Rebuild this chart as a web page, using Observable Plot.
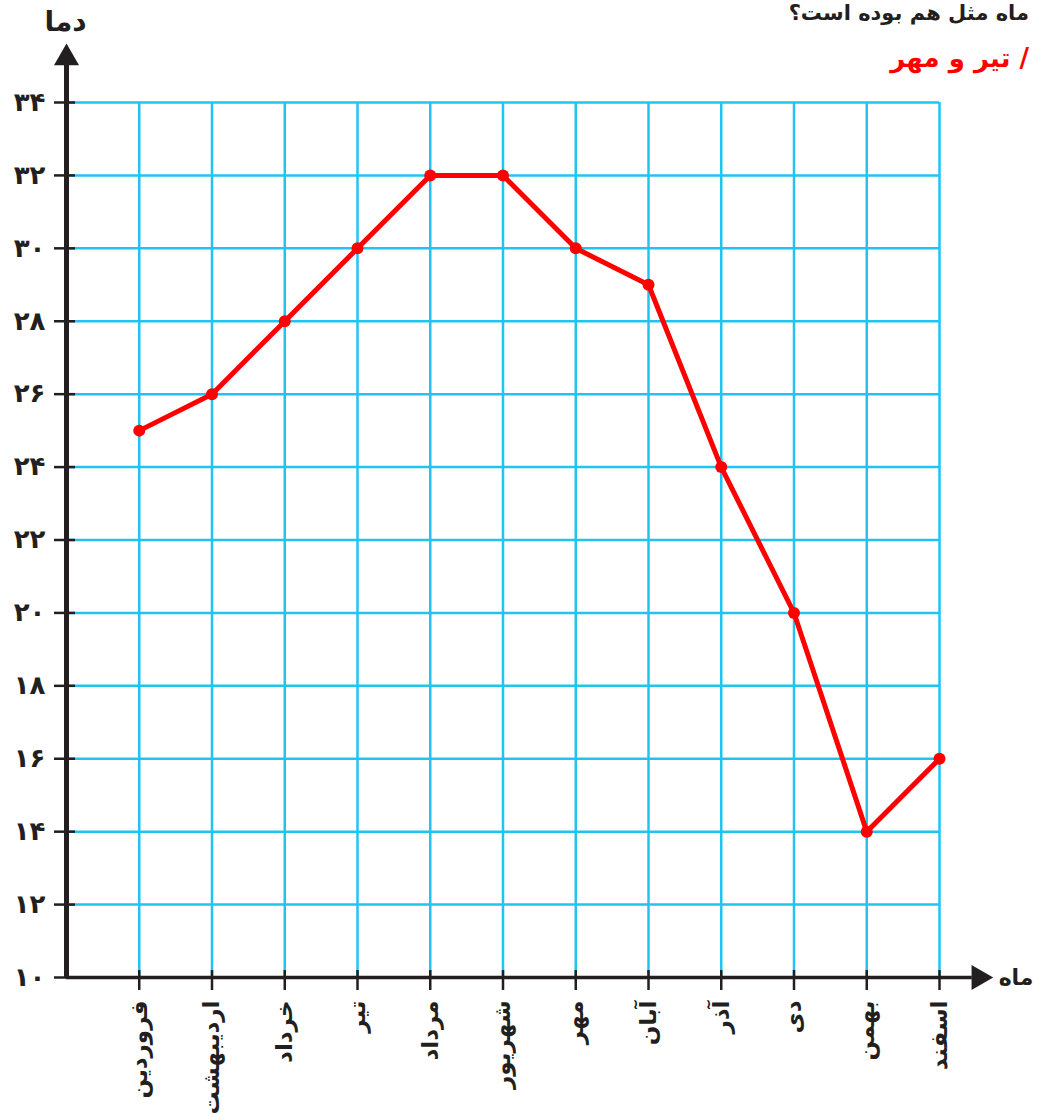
<!DOCTYPE html>
<html lang="fa">
<head>
<meta charset="utf-8">
<script src="https://cdn.jsdelivr.net/npm/d3@7"></script>
<script src="https://cdn.jsdelivr.net/npm/@observablehq/plot@0.6"></script>
<style>
  html, body { margin: 0; padding: 0; background: #fff; }
  #wrap { position: relative; width: 1037px; height: 1113px; overflow: hidden; }
  .hdr { position: absolute; right: 8px; font-family: "DejaVu Sans", sans-serif; font-weight: bold; white-space: nowrap; }
  #q { top: 0px; font-size: 21px; line-height: 26px; color: #231f20; }
  #ans { top: 43px; font-size: 26px; color: #ff0000; }
  svg { overflow: visible; }
</style>
</head>
<body>
<div id="wrap">
  <div class="hdr" id="q" dir="rtl">ماه مثل هم بوده است؟</div>
  <div class="hdr" id="ans" dir="rtl">/ تیر و مهر</div>
</div>
<script>
const months = ["فروردین","اردیبهشت","خرداد","تیر","مرداد","شهریور","مهر","آبان","آذر","دی","بهمن","اسفند"];
const temps = [25, 26, 28, 30, 32, 32, 30, 29, 24, 20, 14, 16];
const yTicks = [10, 12, 14, 16, 18, 20, 22, 24, 26, 28, 30, 32, 34];
const yTickLabels = ["۱۰","۱۲","۱۴","۱۶","۱۸","۲۰","۲۲","۲۴","۲۶","۲۸","۳۰","۳۲","۳۴"];
const yTitle = "دما";
const xTitle = "ماه";

const data = months.map((m, i) => ({i, m, t: temps[i]}));
const idx = months.map((_, i) => i);
const xMin = -1, xMax = months.length - 1;
const yMin = yTicks[0], yMax = yTicks[yTicks.length - 1];
const grid = "#20c3f2";
const ink = "#231f20";
const red = "#ff0000";
const font = "DejaVu Sans";

const chart = Plot.plot({
  width: 1037,
  height: 1113,
  marginTop: 102,
  marginBottom: 136,
  marginLeft: 66,
  marginRight: 98,
  style: {fontFamily: font, background: "transparent"},
  x: {type: "linear", domain: [xMin, xMax], axis: null},
  y: {type: "linear", domain: [yMin, yMax], axis: null},
  marks: [
    Plot.ruleY(yTicks, {x1: xMin, x2: xMax, stroke: grid, strokeWidth: 2.5}),
    Plot.ruleX(idx, {y1: yMin, y2: yMax, stroke: grid, strokeWidth: 2.5}),
    Plot.axisY({ticks: yTicks, tickSize: 21, dx: 9, tickFormat: () => "", stroke: ink, strokeWidth: 2.5}),
    Plot.axisX({ticks: idx, tickSize: 20, dy: -7, tickFormat: () => "", stroke: ink, strokeWidth: 2.5}),
    Plot.axisY({ticks: yTicks, tickSize: 0, tickPadding: 21, tickFormat: d => yTickLabels[yTicks.indexOf(d)], fontSize: 26, fontWeight: "bold", fill: ink}),
    Plot.ruleX([xMin], {y1: yMin, y2: yMax + 1.1, stroke: ink, strokeWidth: 5}),
    Plot.ruleY([yMin], {x1: xMin, x2: xMax + 0.45, stroke: ink, strokeWidth: 3.5}),
    Plot.dot([{x: xMin, y: yMax + 1.22}], {x: "x", y: "y", symbol: "triangle", r: 9.3, fill: ink, stroke: null}),
    Plot.dot([{x: xMax + 0.54, y: yMin}], {x: "x", y: "y", symbol: "triangle", r: 9.3, fill: ink, stroke: null, rotate: 90}),
    Plot.text(data, {x: "i", frameAnchor: "bottom", text: "m", rotate: -90, textAnchor: "end", lineAnchor: "middle", dy: 23, fontSize: 23, fontWeight: "bold", fill: ink}),
    Plot.text([yTitle], {frameAnchor: "top-left", dx: -1, dy: -80, text: d => d, textAnchor: "middle", lineAnchor: "middle", fontSize: 28, fontWeight: "bold", fill: ink}),
    Plot.text([xTitle], {frameAnchor: "bottom-right", dx: 94, dy: 0, text: d => d, textAnchor: "end", lineAnchor: "middle", fontSize: 22, fontWeight: "bold", fill: ink}),
    Plot.line(data, {x: "i", y: "t", stroke: red, strokeWidth: 5}),
    Plot.dot(data, {x: "i", y: "t", r: 6, fill: red, stroke: null})
  ]
});
chart.style.position = "absolute";
chart.style.left = "0";
chart.style.top = "0";
document.getElementById("wrap").prepend(chart);
</script>
</body>
</html>
